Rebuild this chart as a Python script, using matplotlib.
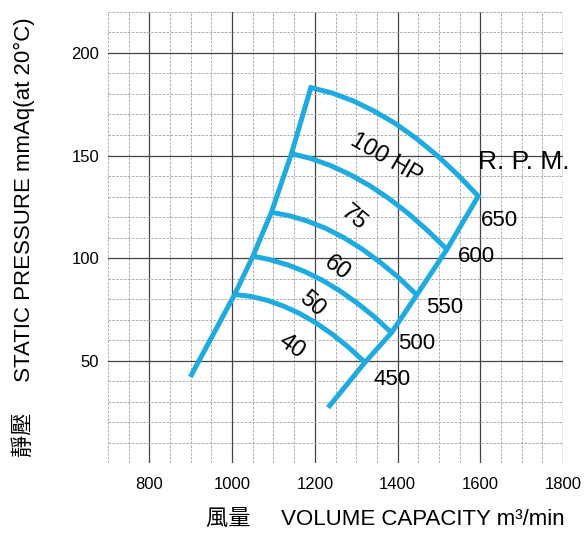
# Fan performance chart: static pressure vs volume capacity

import matplotlib
matplotlib.use("Agg")
import matplotlib.pyplot as plt
from matplotlib.ticker import MultipleLocator

# envelope: left edge (low flow side), bottom to top
left_x = [899, 1006.1, 1050.4, 1095.0, 1143.5, 1190.3]
left_y = [42, 82.2, 100.9, 122.3, 150.9, 183.1]

# envelope: right edge (R.P.M. line), bottom to top
right_x = [1232, 1321.2, 1385.5, 1446.5, 1519.3, 1595.1]
right_y = [27, 49.1, 63.6, 82.0, 104.2, 130.2]

# horsepower arcs, left point to right point
hp_labels = ["40", "50", "60", "75", "100 HP"]
arc_x = [
	[1006.1, 1044.8, 1086.1, 1124.8, 1163.6, 1202.4, 1243.6, 1282.4, 1321.2],
	[1050.4, 1091.4, 1135.3, 1176.5, 1217.7, 1258.9, 1302.5, 1343.8, 1385.5],
	[1095.0, 1138.7, 1182.3, 1225.9, 1269.6, 1313.2, 1356.9, 1402.9, 1446.5],
	[1143.5, 1189.6, 1238.1, 1284.1, 1332.6, 1378.7, 1427.2, 1473.2, 1519.3],
	[1190.3, 1241.2, 1292.1, 1343.0, 1393.9, 1444.8, 1495.7, 1546.7, 1595.1],
]
arc_y = [
	[82.2, 81.3, 79.3, 76.5, 72.9, 68.4, 62.6, 56.3, 49.1],
	[100.9, 99.2, 96.6, 93.3, 89.2, 84.2, 78.0, 71.3, 63.6],
	[122.3, 120.6, 118.0, 114.5, 110.0, 104.5, 98.1, 90.4, 82.0],
	[150.9, 148.6, 145.1, 140.8, 135.3, 129.1, 121.5, 113.3, 104.2],
	[183.1, 180.5, 176.7, 171.7, 165.7, 158.4, 150.0, 140.4, 130.2],
]

# label positions (data units) and angles
hp_label_x = [1143, 1192, 1253, 1293, 1372]
hp_label_y = [57, 77.3, 95.2, 119.6, 148.5]
hp_label_rot = [-35, -41, -37, -40, -30]

rpm_labels = ["450", "500", "550", "600", "650"]
rpm_label_x = [1387, 1447, 1513, 1590, 1646]
rpm_label_y = [40.5, 58.3, 75.8, 100.9, 118.3]

blue = "#1fabdf"
font = ["Liberation Sans", "Noto Sans CJK TC", "DejaVu Sans"]
plt.rcParams["font.family"] = font

fig = plt.figure(figsize=(5.84, 5.33), dpi=100)
ax = fig.add_axes([0.185, 0.1313, 0.779, 0.8462])

ax.set_xlim(700, 1800)
ax.set_ylim(0, 220)
ax.xaxis.set_major_locator(MultipleLocator(200))
ax.xaxis.set_minor_locator(MultipleLocator(50))
ax.set_yticks([50, 100, 150, 200])
ax.yaxis.set_minor_locator(MultipleLocator(10))

ax.grid(which="major", color="#444444", linewidth=0.9, linestyle="-")
ax.grid(which="minor", color="#aaaaaa", linewidth=0.7, linestyle=(0, (2.5, 1.5)))
# right edge at 1800 is only a light dashed line
last = ax.get_xgridlines()[-1]
last.set_color("#aaaaaa")
last.set_linewidth(0.7)
last.set_linestyle((0, (2.5, 1.5)))
ax.set_axisbelow(True)

for s in ax.spines.values():
	s.set_visible(False)
ax.tick_params(which="both", length=0)
ax.tick_params(axis="y", pad=6.5, labelsize=12)
ax.tick_params(axis="x", pad=10, labelsize=12)

# outline: left edge, top arc, right edge
out_x = left_x + arc_x[-1][1:] + right_x[::-1][1:]
out_y = left_y + arc_y[-1][1:] + right_y[::-1][1:]
ax.plot(out_x, out_y, color=blue, linewidth=3.6, solid_joinstyle="miter",
		solid_capstyle="butt", clip_on=False)

for i in range(len(arc_x) - 1):
	ax.plot(arc_x[i], arc_y[i], color=blue, linewidth=3.6,
			solid_joinstyle="round", solid_capstyle="butt")

for i in range(len(hp_labels)):
	ax.text(hp_label_x[i], hp_label_y[i], hp_labels[i], fontsize=17,
			rotation=hp_label_rot[i], rotation_mode="anchor",
			ha="center", va="center")

for i in range(len(rpm_labels)):
	ax.text(rpm_label_x[i], rpm_label_y[i], rpm_labels[i], fontsize=16,
			ha="center", va="center")

ax.text(1704, 146.8, "R. P. M.", fontsize=19, ha="center", va="center")

ax.text(1.004, -0.126, "風量     VOLUME CAPACITY m³/min", fontsize=16,
		ha="right", va="center", transform=ax.transAxes)
ax.text(-0.187, 0.5, "靜壓     STATIC PRESSURE mmAq(at 20°C)", fontsize=16,
		rotation=90, ha="center", va="center", transform=ax.transAxes)

fig.savefig("out.png", dpi=100)
plt.close()
